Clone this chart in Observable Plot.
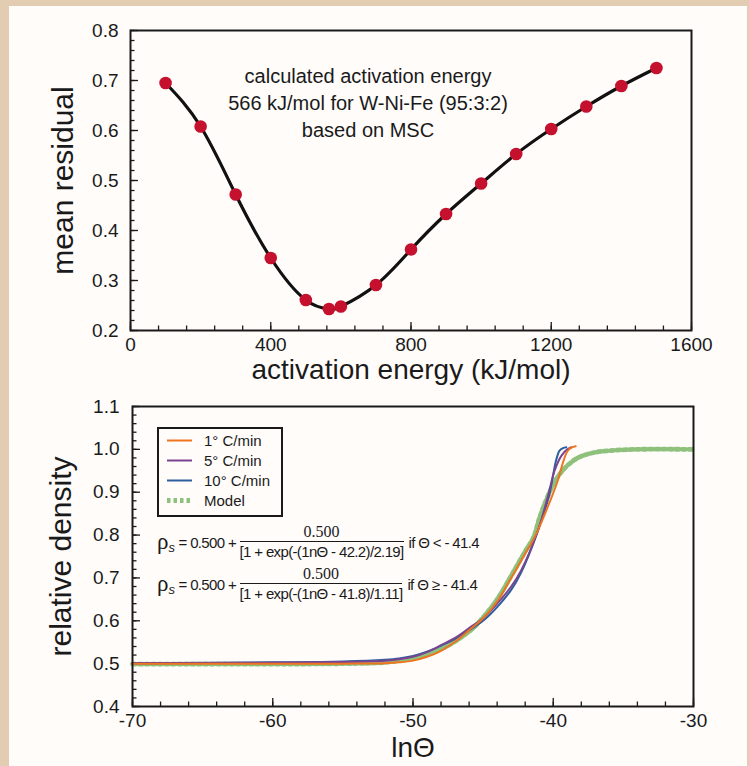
<!DOCTYPE html>
<html>
<head>
<meta charset="utf-8">
<script src="https://cdn.jsdelivr.net/npm/d3@7"></script>
<script src="https://cdn.jsdelivr.net/npm/@observablehq/plot@0.6"></script>
<style>
  html, body { margin: 0; padding: 0; background: #e2cdb3; }
  #page { position: relative; width: 749px; height: 766px; overflow: hidden; background: #e2cdb3; font-family: "Liberation Sans", Arial, sans-serif; color: #1a1a1a; }
  #panel { position: absolute; left: 9px; top: 6px; width: 738px; height: 760px; background: #fffcfa; }
  #top { position: absolute; left: 0; top: 0; }
  #bottom { position: absolute; left: 0; top: 390px; }
  #legend { position: absolute; left: 157px; top: 427px; }
  .eq { position: absolute; left: 157px; display: flex; align-items: center; font-size: 15px; letter-spacing: -0.65px; white-space: nowrap; }
  .eq .rho { font-family: "Liberation Serif", "Times New Roman", serif; font-size: 23px; letter-spacing: 0; }
  .eq .rho sub { font-family: "Liberation Sans", Arial, sans-serif; font-style: italic; font-size: 13px; vertical-align: -3px; }
  .eq .frac { display: inline-flex; flex-direction: column; align-items: center; }
  .eq .num { font-family: "Liberation Serif", "Times New Roman", serif; font-size: 16px; line-height: 16px; padding-bottom: 1px; letter-spacing: 0; }
  .eq .den { border-top: 1.2px solid #1a1a1a; line-height: 17px; padding-top: 1px; }
  .eq .cond { padding-left: 5px; }
</style>
</head>
<body>
<div id="page">
  <div id="panel"></div>
  <div id="top"></div>
  <div id="bottom"></div>
  <div id="legend"></div>
</div>
<script>
// ---------- Top chart data ----------
const energy = [100, 200, 300, 400, 500, 566, 600, 700, 800, 900, 1000, 1100, 1200, 1300, 1400, 1500];
const residual = [0.695, 0.608, 0.472, 0.345, 0.261, 0.243, 0.248, 0.291, 0.362, 0.433, 0.494, 0.553, 0.603, 0.648, 0.689, 0.725];
const topXTicks = [0, 400, 800, 1200, 1600];
const topYTicks = [0.2, 0.3, 0.4, 0.5, 0.6, 0.7, 0.8];
const topAnnotation = ["calculated activation energy", "566 kJ/mol for W-Ni-Fe (95:3:2)", "based on MSC"];

// ---------- Bottom chart data ----------
const seriesNames = ["1° C/min", "5° C/min", "10° C/min", "Model"];
const seriesColors = ["#ee7420", "#7b4490", "#2d5e9e", "#8dc17c"];
const rate1X = [-70, -60, -55, -52, -51, -50, -49, -48, -47, -46, -45, -44, -43, -42.5, -42, -41.3, -40.4, -39.7, -39.3, -39.0, -38.7, -38.4];
const rate1Y = [0.500, 0.500, 0.500, 0.501, 0.503, 0.507, 0.516, 0.530, 0.551, 0.578, 0.606, 0.645, 0.700, 0.728, 0.757, 0.797, 0.865, 0.925, 0.970, 0.995, 1.004, 1.007];
const rate5X = [-70, -60, -55, -52, -51, -50, -49, -48, -47, -46, -45, -44, -43, -42.3, -41.1, -40.4, -39.9, -39.4, -39.0, -38.7];
const rate5Y = [0.501, 0.502, 0.504, 0.507, 0.510, 0.516, 0.527, 0.543, 0.560, 0.583, 0.606, 0.640, 0.680, 0.717, 0.810, 0.888, 0.951, 0.986, 1.000, 1.005];
const rate10X = [-70, -60, -55, -52, -51, -50, -49, -48, -47, -46, -45, -44, -43, -42.3, -41.2, -40.3, -39.8, -39.55, -39.3, -39.07];
const rate10Y = [0.501, 0.503, 0.505, 0.509, 0.512, 0.518, 0.528, 0.542, 0.558, 0.578, 0.600, 0.632, 0.672, 0.712, 0.800, 0.892, 0.974, 0.997, 1.003, 1.005];
const modelX = [-70, -60, -55, -52, -50, -48, -46, -45, -44, -43, -42, -41.4, -41, -40.5, -40, -39.5, -39, -38.5, -38, -37, -36, -34, -30];
const modelY = [0.499, 0.499, 0.500, 0.503, 0.513, 0.534, 0.575, 0.608, 0.650, 0.705, 0.762, 0.795, 0.838, 0.882, 0.918, 0.944, 0.962, 0.975, 0.984, 0.993, 0.997, 1.000, 1.000];
const botXTicks = [-70, -60, -50, -40, -30];
const botYTicks = [0.4, 0.5, 0.6, 0.7, 0.8, 0.9, 1.0, 1.1];
const eqCenters = ["42.2", "41.8"];
const eqWidths = ["2.19", "1.11"];
const eqConds = ["<", "≥"];
const eqLimit = "41.4";

const FONT = "'Liberation Sans', Arial, sans-serif";
const INK = "#1a1a1a";
const DASH = "3.5,3";

// ---------- Top chart ----------
const topRows = energy.map((e, i) => ({e, r: residual[i]}));
const topPlot = Plot.plot({
  width: 749, height: 390,
  marginLeft: 130, marginRight: 58, marginTop: 30, marginBottom: 60,
  style: {fontFamily: FONT, fontSize: "19px", color: INK, background: "transparent", overflow: "visible"},
  x: {domain: [0, 1600]},
  y: {domain: [0.2, 0.8]},
  marks: [
    Plot.axisX(topXTicks, {tickSize: 0, tickPadding: 7, tickFormat: d => String(d), label: null}),
    Plot.axisX(d3.range(0, 1601, 80), {tickSize: -4.5, fill: "none", label: null, strokeWidth: 1.3}),
    Plot.axisX(topXTicks, {tickSize: -8, fill: "none", label: null, strokeWidth: 1.3}),
    Plot.axisY(topYTicks, {tickSize: 0, tickPadding: 12, tickFormat: d3.format(".1f"), label: null}),
    Plot.axisY(d3.ticks(0.2, 0.8, 30), {tickSize: -4.5, fill: "none", label: null, strokeWidth: 1.3}),
    Plot.axisY(topYTicks, {tickSize: -8, fill: "none", label: null, strokeWidth: 1.3}),
    Plot.frame({stroke: INK, strokeWidth: 2}),
    Plot.line(topRows, {x: "e", y: "r", curve: "natural", stroke: "#111", strokeWidth: 3.2}),
    Plot.dot(topRows, {x: "e", y: "r", r: 6.3, fill: "#c5102e", stroke: "none"}),
    Plot.text([topAnnotation.join("\n")], {frameAnchor: "top", textAnchor: "middle", dx: -43, dy: 34, lineAnchor: "top", fontSize: 20, lineHeight: 1.33, fill: INK}),
    Plot.text(["mean residual"], {frameAnchor: "left", textAnchor: "middle", lineAnchor: "middle", rotate: -90, dx: -67, fontSize: 30, fill: INK}),
    Plot.text(["activation energy (kJ/mol)"], {frameAnchor: "bottom", textAnchor: "middle", lineAnchor: "middle", dy: 40, fontSize: 28, fill: INK})
  ]
});
document.getElementById("top").appendChild(topPlot);

// ---------- Bottom chart ----------
const toRows = (xs, ys) => xs.map((x, i) => ({x, y: ys[i]}));
const botPlot = Plot.plot({
  width: 749, height: 376,
  marginLeft: 132, marginRight: 56, marginTop: 16, marginBottom: 60,
  style: {fontFamily: FONT, fontSize: "19px", color: INK, background: "transparent", overflow: "visible"},
  x: {domain: [-70, -30]},
  y: {domain: [0.4, 1.1]},
  marks: [
    Plot.axisX(botXTicks, {tickSize: 0, tickPadding: 7, tickFormat: d => String(d), label: null}),
    Plot.axisX(d3.range(-70, -29, 2), {tickSize: -4.5, fill: "none", label: null, strokeWidth: 1.3}),
    Plot.axisX(botXTicks, {tickSize: -8, fill: "none", label: null, strokeWidth: 1.3}),
    Plot.axisY(botYTicks, {tickSize: 0, tickPadding: 13, tickFormat: d3.format(".1f"), label: null}),
    Plot.axisY(d3.ticks(0.4, 1.1, 35), {tickSize: -4.5, fill: "none", label: null, strokeWidth: 1.3}),
    Plot.axisY(botYTicks, {tickSize: -8, fill: "none", label: null, strokeWidth: 1.3}),
    Plot.line(toRows(modelX, modelY), {x: "x", y: "y", curve: "catmull-rom", stroke: seriesColors[3], strokeWidth: 4.8, strokeDasharray: DASH}),
    Plot.line(toRows(rate10X, rate10Y), {x: "x", y: "y", curve: "catmull-rom", stroke: seriesColors[2], strokeWidth: 2}),
    Plot.line(toRows(rate5X, rate5Y), {x: "x", y: "y", curve: "catmull-rom", stroke: seriesColors[1], strokeWidth: 2}),
    Plot.line(toRows(rate1X, rate1Y), {x: "x", y: "y", curve: "catmull-rom", stroke: seriesColors[0], strokeWidth: 2}),
    Plot.frame({stroke: INK, strokeWidth: 2}),
    Plot.text(["relative density"], {frameAnchor: "left", textAnchor: "middle", lineAnchor: "middle", rotate: -90, dx: -71, fontSize: 30, fill: INK}),
    Plot.text(["lnΘ"], {frameAnchor: "bottom", textAnchor: "middle", lineAnchor: "middle", dy: 42, fontSize: 28, fill: INK})
  ]
});
document.getElementById("bottom").appendChild(botPlot);

// ---------- Legend ----------
const lw = 126, lh = 90;
const leg = d3.select("#legend").append("svg").attr("width", lw).attr("height", lh)
  .style("font-family", FONT).style("font-size", "15px");
leg.append("rect").attr("x", 1).attr("y", 1).attr("width", lw - 2).attr("height", lh - 2)
  .attr("fill", "#fffcfa").attr("stroke", INK).attr("stroke-width", 2);
seriesNames.forEach((name, i) => {
  const cy = 13.5 + i * 20;
  const isModel = i === 3;
  leg.append("line").attr("x1", 10).attr("x2", 35).attr("y1", cy).attr("y2", cy)
    .attr("stroke", seriesColors[i]).attr("stroke-width", isModel ? 4.8 : 2)
    .attr("stroke-dasharray", isModel ? DASH : null);
  leg.append("text").attr("x", 47).attr("y", cy).attr("dy", "0.35em").attr("fill", INK).text(name);
});

// ---------- Equations ----------
const eqTops = [524, 566];
eqCenters.forEach((c, i) => {
  const div = document.createElement("div");
  div.className = "eq";
  div.style.top = eqTops[i] + "px";
  div.innerHTML =
    `<span class="rho">ρ<sub>s</sub></span>` +
    `<span>&nbsp;= 0.500 +&nbsp;</span>` +
    `<span class="frac"><span class="num">0.500</span><span class="den">[1 + exp(-(1nΘ - ${c})/${eqWidths[i]}]</span></span>` +
    `<span class="cond">if Θ ${eqConds[i]} - ${eqLimit}</span>`;
  document.getElementById("page").appendChild(div);
});
</script>
</body>
</html>
